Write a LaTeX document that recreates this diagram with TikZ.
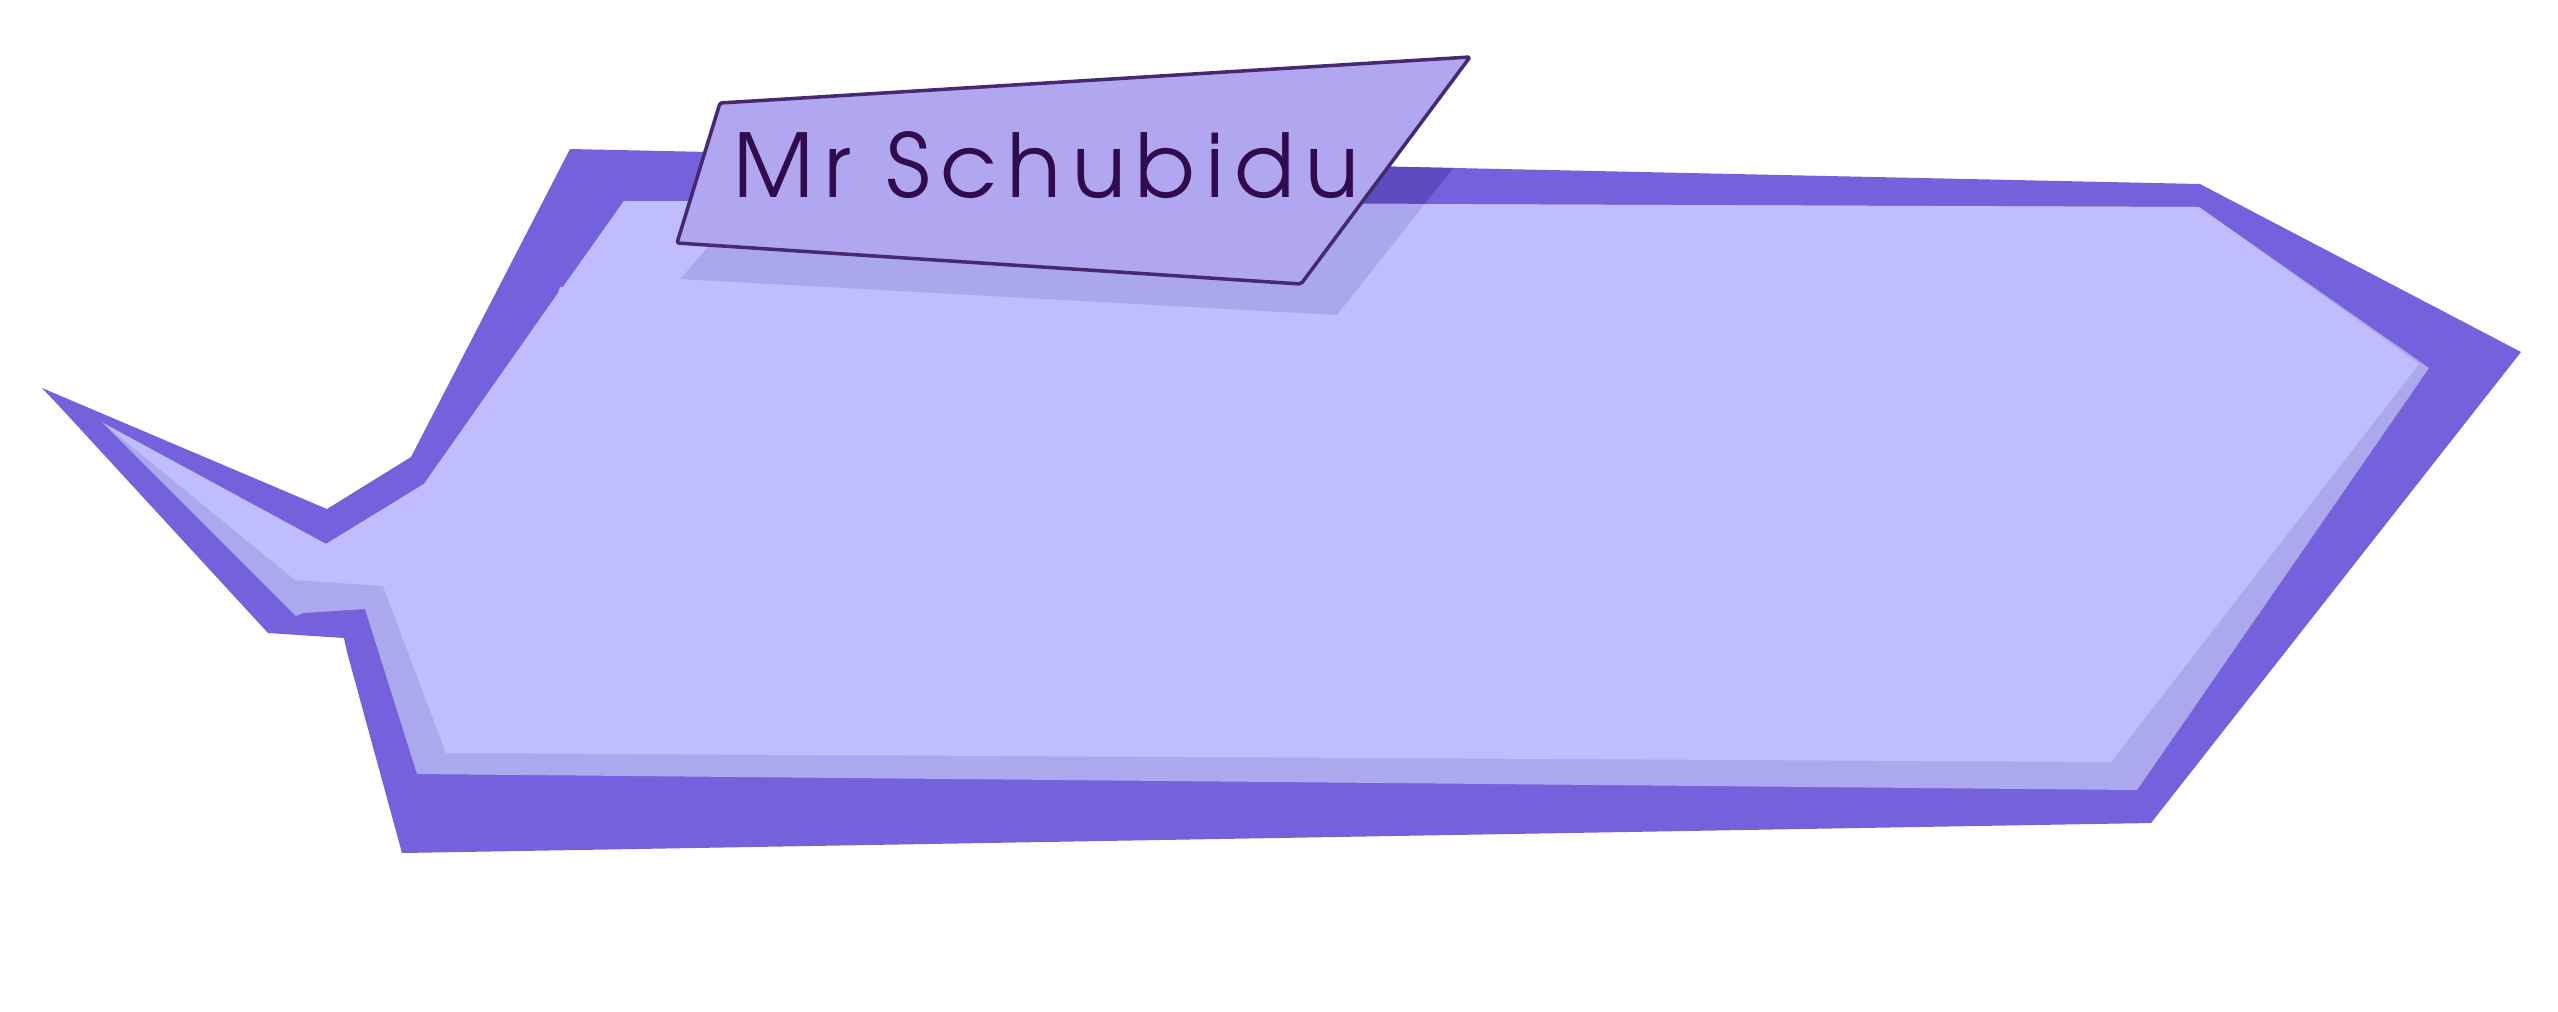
\documentclass[tikz,border=0pt]{standalone}
\usepackage{fontspec}
\usepackage{graphicx}
\newfontfamily\labelfont{TeX Gyre Adventor}[LetterSpace=12]
\definecolor{bandDark}{HTML}{7561DB}
\definecolor{bandMid}{HTML}{ABA8EE}
\definecolor{bandLight}{HTML}{BFBDFE}
\definecolor{shadeOnDark}{HTML}{5E4CBF}
\definecolor{shadeOnLight}{HTML}{AAA7EC}
\definecolor{tagFill}{HTML}{B1A7F1}
\definecolor{tagLine}{HTML}{46296F}
\definecolor{tagText}{HTML}{300B4E}
\tikzset{
  outerfill/.style={fill=bandDark},
  midfill/.style={fill=bandMid},
  lightfill/.style={fill=bandLight},
  shadedark/.style={fill=shadeOnDark},
  shadelight/.style={fill=shadeOnLight},
  tagbox/.style={fill=tagFill, draw=tagLine, line width=1pt, line join=round, rounded corners=0.6pt},
  tagtext/.style={inner sep=0pt, anchor=base west, text=tagText, font=\labelfont}
}
\begin{document}
\begin{tikzpicture}[x=0.01cm,y=-0.01cm]
\useasboundingbox (0,0) rectangle (2558,1011);
% outer dark shape
\fill[outerfill] (570,149) -- (2200,184) -- (2521,352) -- (2151,823) -- (402,853)
  -- (347,652) -- (344,638) -- (268,633) -- (60,407) -- (42,388) -- (327,509) -- (411,457) -- cycle;
% label shadow over the dark band
\begin{scope}
  \clip (570,149) -- (2200,184) -- (2521,352) -- (2151,823) -- (402,853)
  -- (347,652) -- (344,638) -- (268,633) -- (60,407) -- (42,388) -- (327,509) -- (411,457) -- cycle;
  \fill[shadedark] (680,279) -- (1337,315) -- (1491,120) -- (820,120) -- cycle;
\end{scope}
% middle tone layer
\fill[midfill] (103,423) -- (296,616) -- (303,613) -- (365,609) -- (417,774) -- (2137,790)
  -- (2429,368) -- (2199,207) -- (624,201) -- (424,484) -- (326,544) -- cycle;
% light inner layer
\fill[lightfill] (103,423) -- (295,580) -- (383,586) -- (446,753) -- (2111,762) -- (2419,364)
  -- (2199,207) -- (624,201) -- (563,287) -- (560,287) -- (558,293) -- (424,484) -- (326,544) -- cycle;
% label shadow over the light layer
\begin{scope}
  \clip (103,423) -- (295,580) -- (383,586) -- (446,753) -- (2111,762) -- (2419,364)
  -- (2199,207) -- (624,201) -- (563,287) -- (560,287) -- (558,293) -- (424,484) -- (326,544) -- cycle;
  \fill[shadelight] (680,279) -- (1337,315) -- (1491,120) -- (820,120) -- cycle;
\end{scope}
% name tag
\draw[tagbox] (720,103) -- (1470,57) -- (1301,284) -- (677,243) -- cycle;
\node[tagtext] (name) at (733,197) {\resizebox{!}{0.66cm}{Mr Schubidu}};
\end{tikzpicture}
\end{document}
